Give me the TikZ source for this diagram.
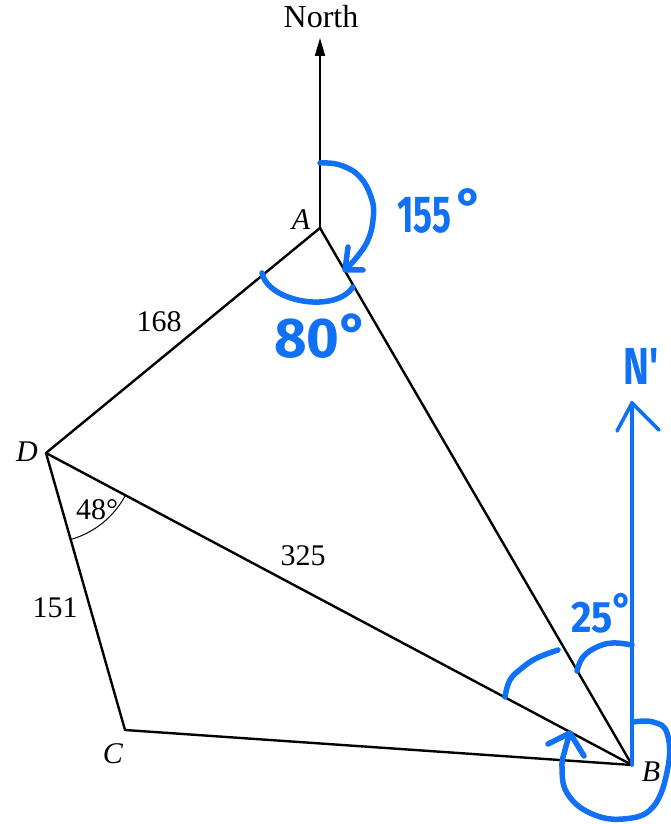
\documentclass[tikz,border=0pt]{standalone}
\usepackage{fontspec}
\setmainfont{Liberation Serif}
\newfontfamily\hand{Fira Sans}
\usetikzlibrary{arrows.meta}
\definecolor{pen}{RGB}{16,112,246}
\begin{document}
\begin{tikzpicture}[x=1pt,y=1pt,
  edge/.style={line width=2.4pt, line join=round, line cap=round},
  lbl/.style={font=\fontsize{30}{30}\selectfont, inner sep=0pt},
  vlbl/.style={font=\fontsize{30}{30}\selectfont\itshape, inner sep=0pt},
  ink/.style={draw=pen, line width=5.5pt, line cap=round, line join=round},
  thinink/.style={draw=pen, line width=3.6pt, line cap=round, line join=round},
  handtxt/.style={text=pen, inner sep=0pt, anchor=base west},
]
\useasboundingbox (0,0) rectangle (670,824);
% vertices
\coordinate (A) at (320,596);
\coordinate (B) at (632,59);
\coordinate (C) at (125,94);
\coordinate (D) at (46,371);
\coordinate (Ntip) at (320,786);
\coordinate (Nptip) at (632,421);

% sides
\draw[edge] (A) -- (D) -- (C) -- (B) -- cycle;
\draw[edge] (D) -- (B);
\draw[line width=2pt, -{Triangle[length=18pt,width=10pt]}] (A) -- (Ntip);

% 48 degree arc
\draw[line width=1pt] ([shift={(-74.1:90pt)}]D) arc[start angle=-74.1, end angle=-28, radius=90pt];

% black labels
\node[lbl, font=\fontsize{32}{32}\selectfont] (north) at (321,807) {North};
\node[vlbl] (la) at (301,604) {A};
\node[vlbl] (lb) at (651,52) {B};
\node[vlbl] (lc) at (113,70) {C};
\node[vlbl] (ld) at (27,372) {D};
\node[lbl] (l168) at (159,502) {168};
\node[lbl] (l325) at (303,268) {325};
\node[lbl] (l151) at (55,216) {151};
\node[lbl] (l48) at (97,314) {48°};

% N' line (blue)
\draw[thinink] (B) -- (Nptip);
\draw[thinink] (617,393) -- (Nptip) -- (659,394);
\node[handtxt] (np) at (623,439) {\hand\bfseries\fontsize{52}{52}\selectfont\scalebox{0.75}[1]{N'}};

% 155 degree mark
\draw[ink] plot[smooth, tension=0.7] coordinates {(320,661) (340,659) (360,647) (372,624) (373,604) (368,584) (357,567) (346,555)};
\draw[ink] (348,577) -- (345,554) -- (363,554);
\node[handtxt] (t155) at (397,591) {\hand\bfseries\fontsize{52}{52}\selectfont\scalebox{0.68}[1]{155}\hspace{5pt}\raisebox{7pt}{°}};

% 80 degree mark
\draw[ink] (262,551) .. controls (268,522) and (335,510) .. (353,537);
\node[handtxt] (t80) at (274,466) {\hand\bfseries\fontsize{56}{56}\selectfont 80\raisebox{4pt}{°}};

% 25 degree mark
\draw[ink] plot[smooth, tension=0.7] coordinates {(632,179) (613,181) (597,177) (583,167) (577,153)};
\node[handtxt] (t25) at (571,191) {\hand\bfseries\fontsize{44}{44}\selectfont\scalebox{0.9}[1]{25\raisebox{8pt}{°}}};

% arc between BD and BA
\draw[ink] plot[smooth, tension=0.7] coordinates {(505,127) (510,144) (522,156) (537,166) (558,174)};

% loop at B
\draw[ink] plot[smooth, tension=0.7] coordinates {(633,102) (653,102) (667,91) (668,57) (653,17) (623,5) (590,11) (567,31) (562,57) (565,74) (570,91)};
\draw[ink] (548,80) -- (570,91) -- (584,68);
\end{tikzpicture}
\end{document}
